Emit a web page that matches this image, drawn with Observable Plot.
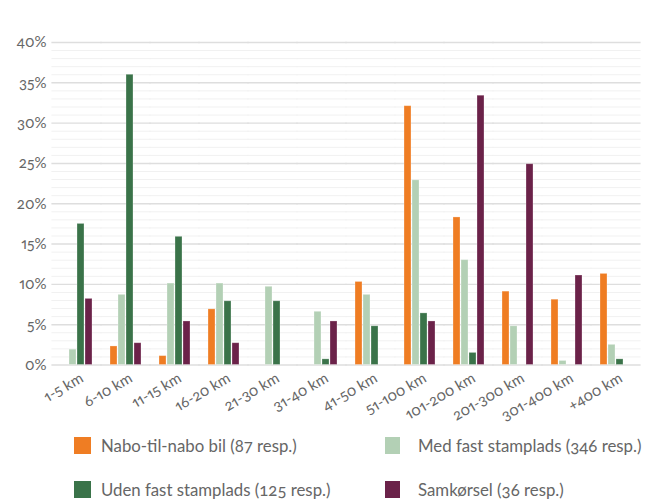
<!DOCTYPE html>
<html>
<head>
<meta charset="utf-8">
<script src="https://cdn.jsdelivr.net/npm/d3@7"></script>
<script src="https://cdn.jsdelivr.net/npm/@observablehq/plot@0.6"></script>
<style>
  html, body { margin: 0; padding: 0; background: #fff; }
  #wrap { position: relative; width: 659px; height: 499px; overflow: hidden; font-family: Lato, "Open Sans", sans-serif; font-variant-numeric: oldstyle-nums; }
  #chart svg, #chart svg g, #chart svg text { font-variant: normal !important; font-variant-numeric: oldstyle-nums proportional-nums !important; }
  #legend { position: absolute; left: 74px; top: 437px; display: grid; grid-template-columns: 311px 260px; row-gap: 27px; color: #666; font-size: 16.8px; }
  .item { display: flex; align-items: center; height: 17px; white-space: nowrap; }
  .sw { width: 17px; height: 17px; margin-right: 10px; flex: none; }
  .item.c2 .sw { width: 15px; margin-right: 18px; }
</style>
</head>
<body>
<div id="wrap"><div id="chart"></div><div id="legend"></div></div>
<script>
const categories = ["1-5 km","6-10 km","11-15 km","16-20 km","21-30 km","31-40 km","41-50 km","51-100 km","101-200 km","201-300 km","301-400 km","+400 km"];
const series = ["Nabo-til-nabo bil (87 resp.)","Med fast stamplads (346 resp.)","Uden fast stamplads (125 resp.)","Samkørsel (36 resp.)"];
const naboTilNabo = [0,2.3,1.1,6.9,0,0,10.3,32.1,18.3,9.1,8.1,11.3];
const medFastStamplads = [1.9,8.7,10.1,10.1,9.7,6.6,8.7,22.9,13.0,4.8,0.5,2.5];
const udenFastStamplads = [17.5,36.0,15.9,7.9,7.9,0.7,4.8,6.4,1.5,0,0,0.7];
const samkorsel = [8.2,2.7,5.4,2.7,0,5.4,0,5.4,33.4,24.9,11.1,0];
const yTicks = [0,5,10,15,20,25,30,35,40];
const yMinor = d3.range(0, 41, 1).filter(v => v % 5 !== 0);
const colors = ["#EF7D23","#B3D0B5","#3A7349","#6B2249"];

const seriesValues = [naboTilNabo, medFastStamplads, udenFastStamplads, samkorsel];
const data = [];
categories.forEach((c, i) => seriesValues.forEach((vals, s) => data.push({category: c, series: series[s], value: vals[i]})));

const chart = Plot.plot({
  width: 659, height: 425,
  marginLeft: 49, marginRight: 16, marginTop: 42, marginBottom: 60.5,
  style: {fontFamily: "Lato, 'Open Sans', sans-serif", fontSize: "15px", color: "#666", background: "#fff"},
  fx: {domain: categories, paddingInner: 0.33, paddingOuter: 0.18, label: null, axis: null},
  x: {domain: series, paddingInner: 0.16, paddingOuter: 0, axis: null},
  y: {domain: [0, 40], axis: null},
  color: {domain: series, range: colors},
  marks: [
    Plot.ruleY(yMinor, {stroke: "#f1f1f1", strokeWidth: 1, insetLeft: -8.6, insetRight: -8.6}),
    Plot.ruleY(yTicks, {stroke: "#dedede", strokeWidth: 1.4, insetLeft: -8.6, insetRight: -8.6}),
    Plot.barY(data.filter(d => d.value > 0), {fx: "category", x: "series", y: "value", fill: "series", stroke: "#fff", strokeOpacity: 0.35, strokeWidth: 0.8}),
    Plot.axisY({ticks: yTicks, tickSize: 0, tickPadding: 14, tickFormat: d => d + "%", label: null, fontSize: 15}),
    Plot.axisFx({anchor: "bottom", tickSize: 0, tickRotate: -30, label: null, fontSize: 15, tickPadding: 12, dx: 5})
  ]
});
document.getElementById("chart").appendChild(chart);

const legend = document.getElementById("legend");
[0, 1, 2, 3].forEach(i => {
  const it = document.createElement("div");
  it.className = "item" + (i % 2 === 1 ? " c2" : "");
  const sw = document.createElement("span");
  sw.className = "sw";
  sw.style.background = colors[i];
  const tx = document.createElement("span");
  tx.textContent = series[i];
  it.appendChild(sw); it.appendChild(tx);
  legend.appendChild(it);
});
</script>
</body>
</html>
